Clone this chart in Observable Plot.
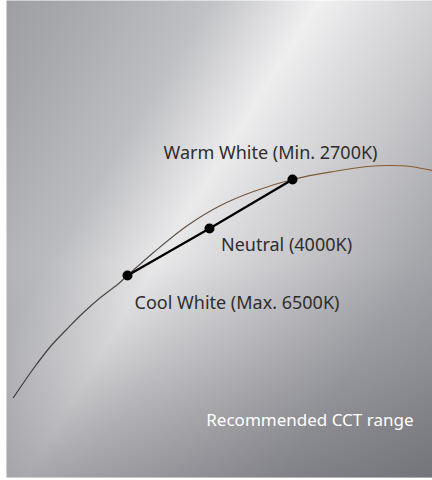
<!DOCTYPE html>
<html>
<head>
<meta charset="utf-8">
<script src="https://cdn.jsdelivr.net/npm/d3@7"></script>
<script src="https://cdn.jsdelivr.net/npm/@observablehq/plot@0.6"></script>
<style>
  html, body { margin: 0; padding: 0; background: #ffffff; }
  #chart { width: 432px; height: 480px; }
</style>
</head>
<body>
<div id="chart"></div>
<script>
// Planckian-locus-like curve (x to the right, y upward)
const locusX = [7, 27, 44, 61, 77, 94, 111, 121, 147, 181, 214, 247, 286, 327, 361, 384, 404, 426];
const locusY = [80, 109, 131, 149, 165, 180, 193, 202, 225, 252, 272, 286, 298, 306, 311, 312, 311, 307];

// CCT points
const cctNames = ["Cool White (Max. 6500K)", "Neutral (4000K)", "Warm White (Min. 2700K)"];
const cctX = [121, 203, 286];
const cctY = [202, 249, 298];

const rangeLabel = "Recommended CCT range";

const locus = locusX.map((x, i) => ({x, y: locusY[i]}));
const points = cctNames.map((name, i) => ({name, x: cctX[i], y: cctY[i]}));

const font = "'Noto Sans', sans-serif";
const fs = 18;
const ink = "#2e2e2e";

const plot = Plot.plot({
  width: 432,
  height: 480,
  marginLeft: 6,
  marginRight: 0,
  marginTop: 0,
  marginBottom: 3,
  x: {domain: [0, 426], axis: null},
  y: {domain: [0, 477], axis: null},
  style: {background: "transparent"},
  marks: [
    Plot.frame({fill: "url(#bg)", stroke: "none"}),
    Plot.frame({fill: "url(#shade)", stroke: "none"}),
    Plot.line(locus, {x: "x", y: "y", curve: "catmull-rom", stroke: "url(#locusGrad)", strokeWidth: 1.2}),
    Plot.line(points, {x: "x", y: "y", stroke: "#000000", strokeWidth: 2.2}),
    Plot.dot(points, {x: "x", y: "y", r: 5, fill: "#000000", stroke: "none"}),
    Plot.text(points.filter(d => d.name.startsWith("Warm")), {x: "x", y: "y", text: "name", textAnchor: "middle", dx: -22, dy: -26.5, fontSize: fs, fontFamily: font, fill: ink}),
    Plot.text(points.filter(d => d.name.startsWith("Neutral")), {x: "x", y: "y", text: "name", textAnchor: "middle", dx: 77, dy: 16.5, fontSize: fs, fontFamily: font, fill: ink}),
    Plot.text(points.filter(d => d.name.startsWith("Cool")), {x: "x", y: "y", text: "name", textAnchor: "middle", dx: 109.5, dy: 27.5, fontSize: fs, fontFamily: font, fill: ink}),
    Plot.text([rangeLabel], {frameAnchor: "bottom-right", text: d => d, textAnchor: "end", dx: -19, dy: -51.5, fontSize: 17, fontFamily: font, fill: "#ffffff"})
  ]
});

const svg = d3.select(plot);
const defs = svg.insert("defs", ":first-child");

const bg = defs.append("linearGradient").attr("id", "bg").attr("gradientUnits", "userSpaceOnUse")
  .attr("x1", 0).attr("y1", 0).attr("x2", 524).attr("y2", 324);
[[0, "rgb(157,158,162)"], [0.11, "rgb(168,169,173)"], [0.29, "rgb(192,193,196)"], [0.40, "rgb(228,228,230)"],
 [0.44, "rgb(240,240,241)"], [0.52, "rgb(224,224,226)"], [0.60, "rgb(210,210,213)"], [0.64, "rgb(203,203,206)"],
 [0.80, "rgb(170,171,175)"], [1, "rgb(145,146,151)"]]
  .forEach(([o, c]) => bg.append("stop").attr("offset", o).attr("stop-color", c));

const shade = defs.append("linearGradient").attr("id", "shade").attr("gradientUnits", "userSpaceOnUse")
  .attr("x1", 0).attr("y1", 0).attr("x2", 0).attr("y2", 477);
[[0, 0], [0.55, 0.05], [0.75, 0.2], [1, 0.45]]
  .forEach(([o, a]) => shade.append("stop").attr("offset", o).attr("stop-color", "rgb(80,80,88)").attr("stop-opacity", a));

const lg = defs.append("linearGradient").attr("id", "locusGrad").attr("gradientUnits", "userSpaceOnUse")
  .attr("x1", 13).attr("y1", 0).attr("x2", 432).attr("y2", 0);
[[0, "#3a3a3c"], [0.35, "#5a5048"], [0.6, "#7a5a3c"], [1, "#8c5a2a"]]
  .forEach(([o, c]) => lg.append("stop").attr("offset", o).attr("stop-color", c));

document.getElementById("chart").appendChild(plot);
</script>
</body>
</html>
